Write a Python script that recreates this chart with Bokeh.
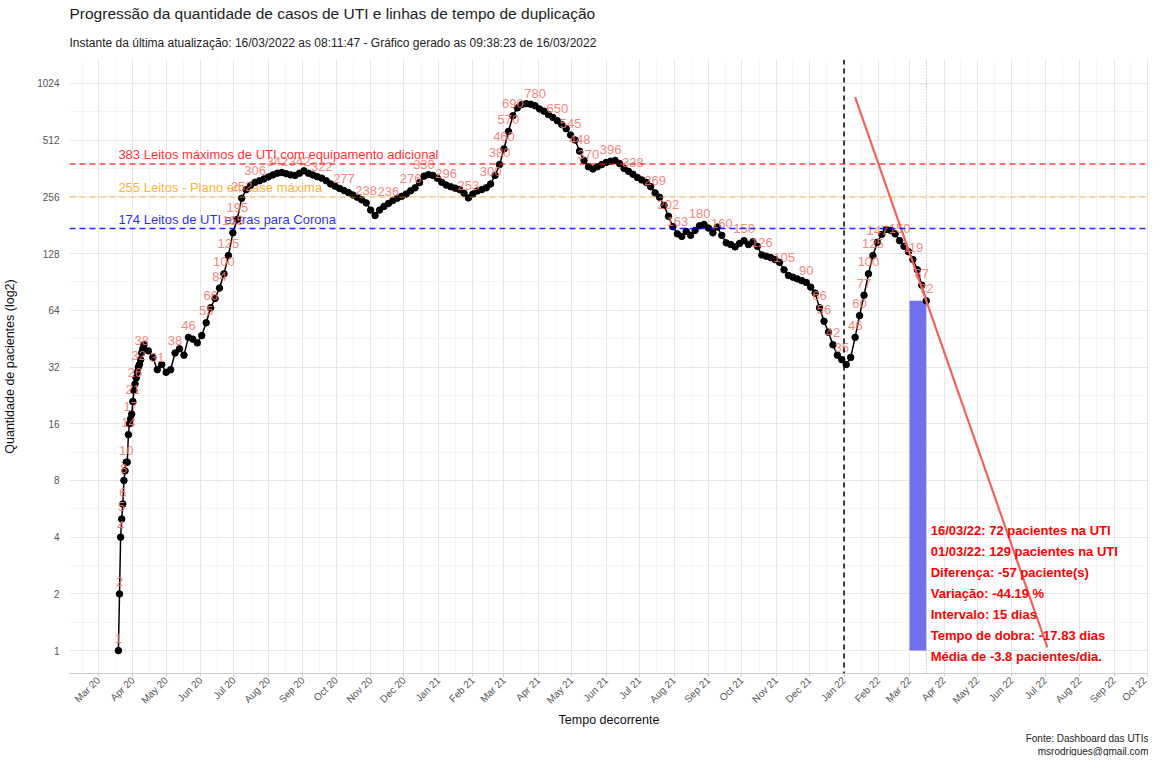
import math
import pandas as pd
from bokeh.plotting import figure
from bokeh.models import (ColumnDataSource, Span, FixedTicker, PrintfTickFormatter,
                          DatetimeTickFormatter, Title, Range1d)
from bokeh.core.properties import value
from bokeh.embed import file_html
from bokeh.resources import INLINE

# ---------------- dados ----------------
inicio_diario = "2020-03-19"
pacientes_diarios = [1, 2, 4, 5, 6, 8, 9, 10, 10, 14, 16, 17, 18, 21, 24, 26, 28, 30, 32, 33,
                     35, 38, 40, 42]
inicio_4dias = "2020-04-15"
pacientes_4dias = [
    39, 36, 31, 33, 30, 31, 38, 40, 37, 46,
    45, 43, 47, 55, 66, 74, 84, 100, 125, 165,
    195, 252, 280, 295, 306, 312, 319, 327, 335, 342,
    345, 340, 335, 333, 342, 352, 342, 335, 328, 322,
    312, 300, 292, 284, 277, 270, 262, 255, 247, 238,
    218, 204, 218, 228, 236, 245, 252, 258, 265, 276,
    286, 305, 330, 336, 333, 322, 306, 296, 290, 285,
    280, 268, 253, 265, 275, 280, 286, 300, 333, 380,
    460, 570, 690, 760, 791, 800, 795, 780, 750, 730,
    700, 676, 650, 620, 589, 545, 513, 448, 400, 370,
    360, 370, 380, 390, 396, 400, 385, 363, 350, 338,
    325, 315, 306, 290, 269, 255, 231, 202, 178, 163,
    158, 168, 160, 170, 180, 183, 175, 165, 177, 160,
    146, 143, 139, 145, 150, 143, 148, 140, 126, 124,
    122, 119, 115, 105, 98, 96, 94, 92, 90, 85,
    79, 66, 56, 49, 42, 37, 35, 33, 36, 46,
    60, 77, 100, 125, 147, 162, 172, 170, 163, 150,
    140, 131, 119, 105, 87, 72]

# início do intervalo usado no cálculo do tempo de dobra
inicio_intervalo = "2022-03-01"
pacientes_inicio_intervalo = 129

limites = [383, 255, 174]
limites_textos = ["383 Leitos máximos de UTI com equipamento adicional",
                  "255 Leitos - Plano em fase máxima",
                  "174 Leitos de UTI extras para Corona"]
limites_cores = ["red", "orange", "blue"]
limites_alfas = [0.75, 0.45, 0.85]

marco_vertical = "2022-01-01"
inicio_tendencia = "2022-01-11"
fim_tendencia = "2022-07-03"

titulo = "Progressão da quantidade de casos de UTI e linhas de tempo de duplicação"
subtitulo = ("Instante da última atualização: 16/03/2022 as 08:11:47 - "
             "Gráfico gerado as 09:38:23 de 16/03/2022")
legenda_fonte = ["Fonte: Dashboard das UTIs", "msrodrigues@gmail.com"]

# ---------------- preparação ----------------
datas = list(pd.date_range(inicio_diario, periods=len(pacientes_diarios), freq="D")) + \
        list(pd.date_range(inicio_4dias, periods=len(pacientes_4dias), freq="4D"))
pacientes = pacientes_diarios + pacientes_4dias

ultima_data = datas[-1]
ultimo_valor = pacientes[-1]
d_ini = pd.Timestamp(inicio_intervalo)
valor_ini = pacientes_inicio_intervalo
intervalo = (ultima_data - d_ini).days
diferenca = ultimo_valor - valor_ini
variacao = diferenca / valor_ini * 100
tempo_dobra = intervalo * math.log(2) / math.log(ultimo_valor / valor_ini)
media = diferenca / intervalo

FONT = "Liberation Sans"
W, H = 1148, 756

x0 = pd.Timestamp("2020-02-04")
x1 = pd.Timestamp("2022-10-02")
y0, y1 = 0.756, 1373
ms = lambda t: pd.Timestamp(t).timestamp() * 1000

p = figure(width=W, height=H, x_axis_type="datetime", y_axis_type="log",
           x_range=Range1d(x0, x1), y_range=Range1d(y0, y1),
           output_backend="svg", toolbar_location=None, title=None,
           min_border_left=0, min_border_right=0, min_border_top=0, min_border_bottom=0)
p.background_fill_color = "white"
p.border_fill_color = "white"
p.outline_line_color = None

# titles
p.add_layout(Title(text=subtitulo, text_font=FONT, text_font_size="12px",
                   text_font_style="normal", text_color="#222222", standoff=20), "above")
p.add_layout(Title(text=titulo, text_font=FONT, text_font_size="15.5px",
                   text_font_style="normal", text_color="#222222", standoff=4), "above")

# axes
meses = pd.date_range("2020-03-01", "2022-10-01", freq="MS")
meios = [meses[i] + (meses[i + 1] - meses[i]) / 2 for i in range(len(meses) - 1)]
meios = [meses[0] - pd.Timedelta(days=14)] + meios
p.xaxis.ticker = FixedTicker(ticks=[ms(t) for t in meses], minor_ticks=[ms(t) for t in meios])
fmt = "%b %y"
p.xaxis.formatter = DatetimeTickFormatter(milliseconds=fmt, seconds=fmt, minsec=fmt, minutes=fmt,
                                          hourmin=fmt, hours=fmt, days=fmt, months=fmt, years=fmt)
p.xaxis.major_label_orientation = math.pi / 4
p.yaxis.ticker = FixedTicker(ticks=[2 ** i for i in range(11)],
                             minor_ticks=[2 ** (i + 0.5) for i in range(-1, 11)])
p.yaxis.formatter = PrintfTickFormatter(format="%d")

for ax in (p.xaxis, p.yaxis):
    ax.major_label_text_font = FONT
    ax.major_label_text_font_size = "10px"
    ax.major_label_text_color = "#555555"
    ax.axis_label_text_font = FONT
    ax.axis_label_text_font_size = "12.5px"
    ax.axis_label_text_font_style = "normal"
    ax.axis_label_text_color = "#111111"
    ax.minor_tick_line_color = None
p.xaxis.axis_label = "Tempo decorrente"
p.yaxis.axis_label = "Quantidade de pacientes (log2)"
p.xaxis.axis_line_color = "#cccccc"
p.xaxis.major_tick_line_color = "#cccccc"
p.xaxis.major_tick_out = 3
p.xaxis.major_tick_in = 0
p.xaxis.major_label_standoff = 1
p.xaxis.axis_label_standoff = 1
p.yaxis.axis_line_color = None
p.yaxis.major_tick_line_color = None
p.yaxis.major_label_standoff = 4
p.yaxis.axis_label_standoff = 17

for g in (p.xgrid, p.ygrid):
    g.grid_line_color = "#e6e6e6"
    g.grid_line_width = 1
    g.minor_grid_line_color = "#f0f0f0"
    g.minor_grid_line_width = 0.7

# caption (right-aligned under the plot)
for t in legenda_fonte:
    p.add_layout(Title(text=t, align="right", text_font=FONT, text_font_size="10px",
                       text_font_style="normal", text_color="#222222", standoff=0), "below")

# reference lines
for v, txt, cor, a in zip(limites, limites_textos, limites_cores, limites_alfas):
    p.add_layout(Span(location=v, dimension="width", line_color=cor, line_alpha=a,
                      line_dash="6 4", line_width=1.5))
p.text(x=[datas[0]] * 3, y=limites, text=limites_textos,
       text_color=limites_cores, text_alpha=0.85, text_font=value(FONT),
       text_font_size="13px", text_align="left", text_baseline="bottom", y_offset=-2)

# vertical markers
p.add_layout(Span(location=ms(marco_vertical), dimension="height", line_color="black",
                  line_dash="5 4", line_width=1.5))
p.add_layout(Span(location=ms(ultima_data), dimension="height", line_color="#aaaaaa",
                  line_dash="1 2", line_width=1))

# interval bar
p.quad(left=[d_ini], right=[ultima_data], bottom=[1], top=[ultimo_valor],
       fill_color="#7070ee", fill_alpha=1, line_color=None)

# series
src = ColumnDataSource(dict(data=datas, pacientes=pacientes))
p.line("data", "pacientes", source=src, line_color="black", line_width=1.5)
p.scatter("data", "pacientes", source=src, size=6.5, fill_color="black", line_color="black")

# point labels (skip overlapping ones, like check_overlap)
fw, fh = 1091, 617
dias_total = (x1 - x0).days
ppd = fw / dias_total
ppl = fh / math.log2(y1 / y0)
caixas, rx, ry, rt = [], [], [], []
for d, v in zip(datas, pacientes):
    px = (d - x0).days * ppd
    py = math.log2(v / y0) * ppl + 12
    w = 7.3 * len(str(v))
    if all(abs(px - bx) >= (w + bw) / 2 or abs(py - by) >= 13 for bx, by, bw in caixas):
        caixas.append((px, py, w))
        rx.append(d); ry.append(v); rt.append(str(v))
p.text(x=rx, y=ry, text=rt, text_color="#F8766D", text_alpha=0.9, text_font=value(FONT),
       text_font_size="13px", text_align="center", text_baseline="middle", y_offset=-12)

# doubling-time trend line
td = pd.date_range(inicio_tendencia, fim_tendencia, freq="D")
ty = [ultimo_valor * 2 ** ((t - ultima_data).days / tempo_dobra) for t in td]
p.line(list(td), ty, line_color="#F0635B", line_width=2.2)

# annotation
linhas = [
    f"{ultima_data:%d/%m/%y}: {ultimo_valor} pacientes na UTI",
    f"{d_ini:%d/%m/%y}: {valor_ini} pacientes na UTI",
    f"Diferença: {diferenca} paciente(s)",
    f"Variação: {variacao:.2f} %",
    f"Intervalo: {intervalo} dias",
    f"Tempo de dobra: {tempo_dobra:.2f} dias",
    f"Média de {media:.1f} pacientes/dia.",
]
n = len(linhas)
asrc = ColumnDataSource(dict(x=[ultima_data + pd.Timedelta(days=4)] * n, y=[2] * n, t=linhas,
                             off=[(i - (n - 1) / 2) * 21 for i in range(n)]))
p.text(x="x", y="y", text="t", y_offset="off", source=asrc, text_color="red",
       text_font=value(FONT), text_font_size="13px", text_font_style="bold",
       text_align="left", text_baseline="middle")

open("out.html", "w").write(file_html(p, INLINE))
